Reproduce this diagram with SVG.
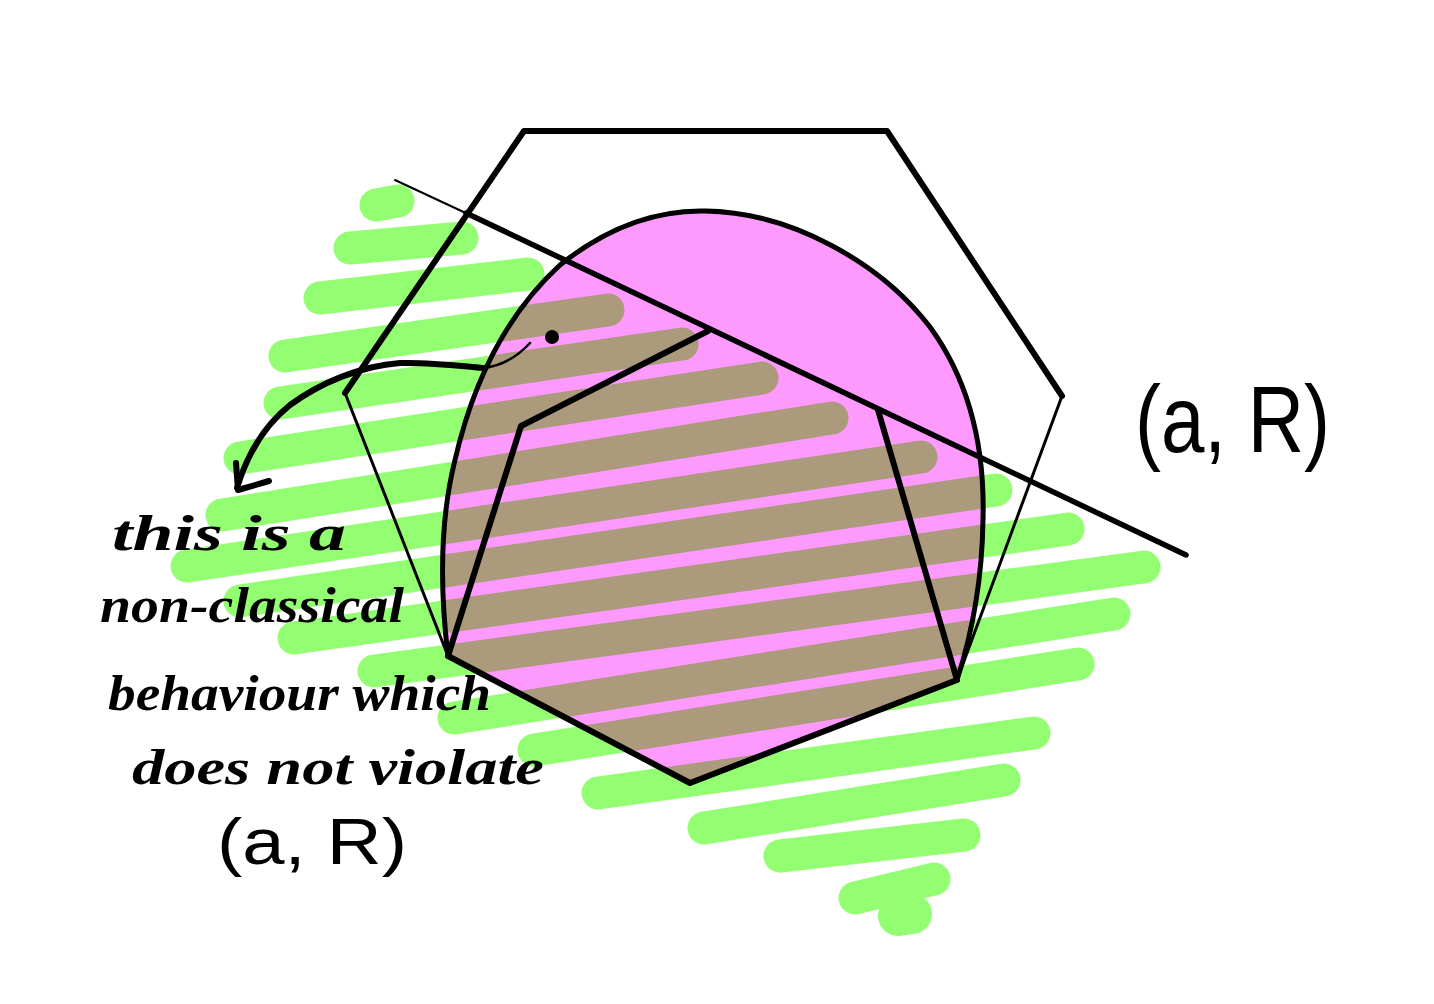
<svg xmlns="http://www.w3.org/2000/svg" xmlns:xlink="http://www.w3.org/1999/xlink" width="1434" height="1004" viewBox="0 0 1434 1004">
<style>
.ink{fill:none;stroke:#000;stroke-linecap:round;stroke-linejoin:round}
.thick{stroke-width:6}
.thin{stroke-width:3}
.hand{font-family:"Liberation Serif","DejaVu Serif",serif;font-style:italic;font-weight:bold;fill:#000}
.lab{font-family:"Liberation Sans","DejaVu Sans",sans-serif;fill:#000}
</style>
<defs>
<g id="stripeSet" stroke-width="33" stroke-linecap="round" fill="none">
<line x1="376" y1="205" x2="398" y2="201"/>
<line x1="350" y1="248" x2="462" y2="238"/>
<line x1="320" y1="298" x2="528" y2="274"/>
<line x1="285" y1="356" x2="608" y2="310"/>
<line x1="280" y1="403" x2="682" y2="344"/>
<line x1="240" y1="458" x2="762" y2="378"/>
<line x1="222" y1="515" x2="832" y2="418"/>
<line x1="187" y1="566" x2="921" y2="457"/>
<line x1="240" y1="601" x2="996" y2="490"/>
<line x1="294" y1="638" x2="1068" y2="529"/>
<line x1="374" y1="671" x2="1144" y2="567"/>
<line x1="454" y1="718" x2="1114" y2="614"/>
<line x1="534" y1="750" x2="1078" y2="664"/>
<line x1="598" y1="793" x2="1034" y2="733"/>
<line x1="704" y1="828" x2="1004" y2="780"/>
<line x1="780" y1="856" x2="964" y2="835"/>
<line x1="855" y1="898" x2="934" y2="879"/>
<line x1="898" y1="916" x2="912" y2="914" stroke-width="40"/>
</g>
<path id="pinkShape" d="M448,656 C440,590 440,520 455,460 C470,395 500,320 560,265 C610,225 660,210 705,211 C790,212 880,262 930,327 C970,382 985,450 983,520 C982,590 970,640 957,680 L690,783 Z"/>
<clipPath id="pinkClip"><use xlink:href="#pinkShape"/></clipPath>
</defs>

<g id="green-hatching">
<use xlink:href="#stripeSet" stroke="#94fe73"/>
</g>
<g id="region">
<use xlink:href="#pinkShape" fill="#fe99fe"/>
<use xlink:href="#stripeSet" stroke="#ac9a7d" clip-path="url(#pinkClip)"/>
<path class="ink" stroke-width="5" d="M448,656 C440,590 440,520 455,460 C470,395 500,320 560,265 C610,225 660,210 705,211 C790,212 880,262 930,327 C970,382 985,450 983,520 C982,590 970,640 957,680"/>
</g>

<g id="connectors">
<g id="hexagon">
<path class="ink thick" d="M345,393 L524,131 L887,131 L1062,396"/>
<path class="ink thin" d="M345,393 L448,656"/>
<path class="ink thin" d="M1062,396 L957,680"/>
<path class="ink thick" d="M448,656 L690,783 L957,680"/>
</g>
<g id="pentagon">
<path class="ink thick" d="M448,656 L521,426 L708,331"/>
<path class="ink thick" d="M878,410 L957,680"/>
</g>
<g id="cut-line">
<path class="ink" stroke-width="2" d="M395,180 L470,215"/>
<path class="ink" stroke-width="5.5" d="M466,213 L1186,555"/>
</g>
<g id="arrow">
<path class="ink" stroke-width="2.5" d="M530,343 C518,356 502,366 483,368"/>
<path class="ink" stroke-width="6" d="M483,368 C460,366 430,362 400,363 C360,366 320,383 290,405 C265,425 247,455 237,488"/>
<path class="ink" stroke-width="6" d="M236,463 L238,490 L269,481"/>
<circle cx="552" cy="337" r="7" fill="#000"/>
</g>
</g>

<g id="note">
<text class="hand" x="112" y="550" font-size="50" textLength="234" lengthAdjust="spacingAndGlyphs">this is a</text>
<text class="hand" x="100" y="622" font-size="50" textLength="304" lengthAdjust="spacingAndGlyphs">non-classical</text>
<text class="hand" x="108" y="710" font-size="50" textLength="383" lengthAdjust="spacingAndGlyphs">behaviour which</text>
<text class="hand" x="132" y="784" font-size="50" textLength="412" lengthAdjust="spacingAndGlyphs">does not violate</text>
<text class="lab" x="217" y="864" font-size="64" textLength="190" lengthAdjust="spacingAndGlyphs">(a, R)</text>
</g>
<g id="label-right">
<text class="lab" x="1135" y="452" font-size="94" textLength="195" lengthAdjust="spacingAndGlyphs">(a, R)</text>
</g>
</svg>
